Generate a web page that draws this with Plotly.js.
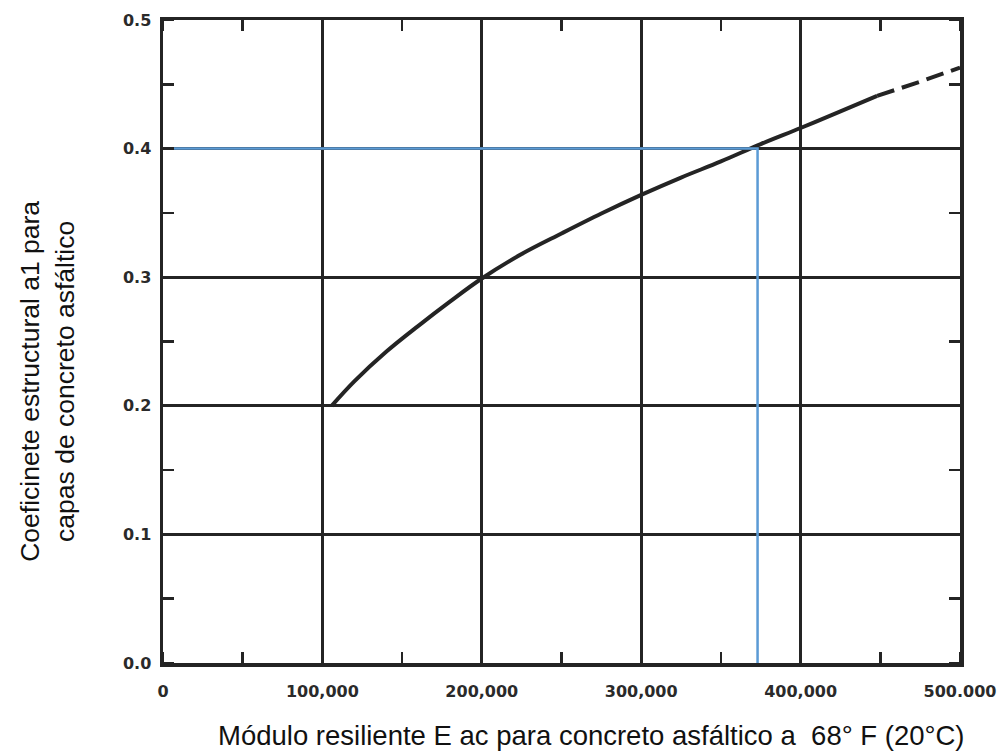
<!DOCTYPE html>
<html>
<head>
<meta charset="utf-8">
<script src="https://cdn.plot.ly/plotly-3.0.1.min.js"></script>
<style>html,body{margin:0;padding:0;background:#fff;}#chart{width:1003px;height:753px;}</style>
</head>
<body>
<div id="chart"></div>
<script>
// Curve (solid part)
const modulusSolid = [105800, 120000, 140000, 160000, 180000, 200000, 225000, 250000, 275000, 300000, 325000, 350000, 375000, 400000, 425000, 448000];
const a1Solid      = [0.200, 0.219, 0.242, 0.262, 0.281, 0.299, 0.318, 0.334, 0.3495, 0.364, 0.3775, 0.390, 0.4035, 0.416, 0.429, 0.441];
// Dashed extrapolation
const modulusDashed = [448000, 475000, 500000];
const a1Dashed      = [0.441, 0.452, 0.463];
// Blue reading guide
const guideModulus = [0, 373000, 373000];
const guideA1      = [0.4, 0.4, 0];
// Ticks
const xTickVals = [0, 100000, 200000, 300000, 400000, 500000];
const xTickText = ['0', '100,000', '200,000', '300,000', '400,000', '500.000'];
const yTickVals = [0, 0.1, 0.2, 0.3, 0.4, 0.5];
const yTickText = ['0.0', '0.1', '0.2', '0.3', '0.4', '0.5'];

const ink = '#242424';
const traces = [
  {x: modulusSolid, y: a1Solid, mode: 'lines', line: {color: ink, width: 4, shape: 'spline', smoothing: 1}, hoverinfo: 'skip', showlegend: false},
  {x: modulusDashed, y: a1Dashed, mode: 'lines', line: {color: ink, width: 4, dash: '18px,8px'}, hoverinfo: 'skip', showlegend: false},
  {x: guideModulus, y: guideA1, mode: 'lines', line: {color: '#5b9bd5', width: 2.5}, hoverinfo: 'skip', showlegend: false}
];

const tickFont = {family: 'DejaVu Sans', size: 16, color: '#2a2a2a', weight: 'bold'};
const layout = {
  width: 1003, height: 753,
  margin: {l: 163, r: 43, t: 20, b: 90},
  paper_bgcolor: '#ffffff', plot_bgcolor: '#ffffff',
  xaxis: {
    range: [0, 500000], tickmode: 'array', tickvals: xTickVals, ticktext: xTickText,
    showgrid: true, gridcolor: ink, gridwidth: 3, zeroline: false,
    showline: true, linecolor: ink, linewidth: 3.5, mirror: 'allticks',
    ticks: '', ticklabelstandoff: 11, tickfont: tickFont,
    minor: {dtick: 50000, tick0: 0, ticks: 'inside', ticklen: 11, tickwidth: 2.5, tickcolor: ink, showgrid: false}
  },
  yaxis: {
    range: [0, 0.5], tickmode: 'array', tickvals: yTickVals, ticktext: yTickText,
    showgrid: true, gridcolor: ink, gridwidth: 3, zeroline: false,
    showline: true, linecolor: ink, linewidth: 3.5, mirror: 'allticks',
    ticks: '', ticklabelstandoff: 5, tickfont: tickFont,
    minor: {dtick: 0.05, tick0: 0, ticks: 'inside', ticklen: 11, tickwidth: 2.5, tickcolor: ink, showgrid: false}
  },
  annotations: [
    {text: 'Módulo resiliente E ac para concreto asfáltico a  68° F (20°C)', xref: 'paper', yref: 'paper',
     x: 0.538, y: -0.112, xanchor: 'center', yanchor: 'middle', showarrow: false,
     font: {family: 'Liberation Sans, Arial, sans-serif', size: 27.5, color: '#111'}},
    {text: 'Coeficinete estructural a1 para<br>capas de concreto asfáltico', xref: 'paper', yref: 'paper',
     x: -0.145, y: 0.438, xanchor: 'center', yanchor: 'middle', textangle: -90, showarrow: false,
     font: {family: 'Liberation Sans, Arial, sans-serif', size: 26.5, color: '#111'}}
  ]
};

Plotly.newPlot('chart', traces, layout, {displayModeBar: false, staticPlot: true});
</script>
</body>
</html>
